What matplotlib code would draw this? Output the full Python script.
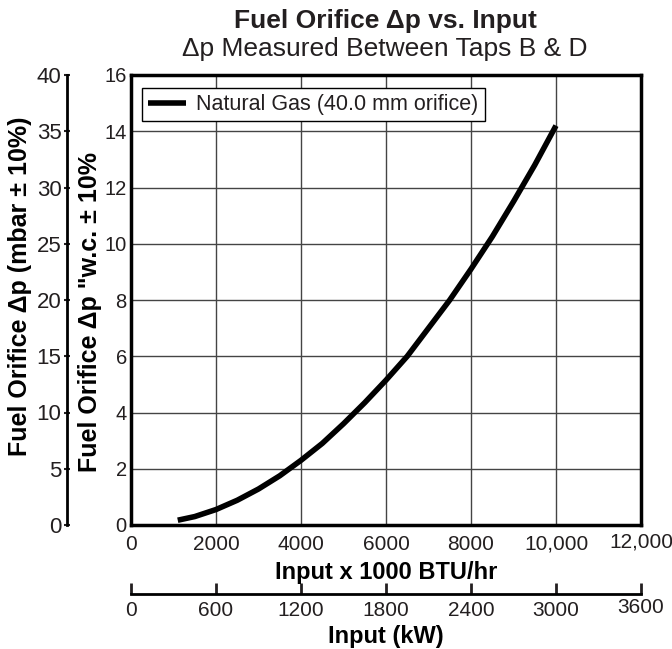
import matplotlib
matplotlib.use('Agg')
import matplotlib.pyplot as plt
import matplotlib.transforms as mtransforms

# values
input_mbtu = [1100, 1500, 2000, 2500, 3000, 3500, 4000, 4500, 5000, 5500,
              6000, 6500, 7000, 7500, 8000, 8500, 9000, 9500, 10000]
dp_wc = [0.17, 0.3, 0.55, 0.88, 1.28, 1.75, 2.3, 2.9, 3.6, 4.35,
         5.15, 6.0, 7.0, 8.0, 9.1, 10.25, 11.5, 12.8, 14.2]
x_ticks = [0, 2000, 4000, 6000, 8000, 10000, 12000]
x_labels = ['0', '2000', '4000', '6000', '8000', '10,000', '12,000']
y_ticks = [0, 2, 4, 6, 8, 10, 12, 14, 16]
mbar_ticks = [0, 5, 10, 15, 20, 25, 30, 35, 40]
kw_ticks = [0, 600, 1200, 1800, 2400, 3000, 3600]

plt.rcParams['font.family'] = ['Liberation Sans', 'DejaVu Sans']
plt.rcParams['text.color'] = '#231f20'

fig = plt.figure(figsize=(6.72, 6.49), dpi=100)
ax = fig.add_axes([131/672, 124/649, 510/672, 450/649])

ax.plot(input_mbtu, dp_wc, color='black', lw=4, solid_capstyle='butt',
        label='Natural Gas (40.0 mm orifice)')
ax.set_xlim(0, 12000)
ax.set_ylim(0, 16)
ax.set_xticks(x_ticks)
ax.set_xticklabels(x_labels)
ax.set_yticks(y_ticks)
ax.tick_params(length=0, colors='#231f20')
ax.tick_params(axis='x', pad=7, labelsize=15)
ax.tick_params(axis='y', pad=3, labelsize=14.5)
ax.grid(color='#444444', lw=1)
for s in ax.spines.values():
    s.set_linewidth(2.5)
    s.set_color('black')

ax.set_xlabel('Input x 1000 BTU/hr', fontsize=17, fontweight='bold')
ax.xaxis.set_label_coords(0.5, -0.08)
ax.set_ylabel('Fuel Orifice \u0394p "w.c. \u00b1 10%', fontsize=18, fontweight='bold')
ax.yaxis.set_label_coords(-0.057, 0.473)

leg = ax.legend(loc='upper left', bbox_to_anchor=(0.0216, 0.971), borderaxespad=0,
                fontsize=15.5, fancybox=False, framealpha=1, edgecolor='black',
                handlelength=1.75, handletextpad=0.5, borderpad=0.28)
leg.get_frame().set_linewidth(1)

# mbar axis on the far left
sec_y = ax.secondary_yaxis(-0.1255, functions=(lambda v: v * 2.5, lambda v: v / 2.5))
sec_y.set_yticks(mbar_ticks)
sec_y.tick_params(direction='inout', length=4, width=1.5, labelsize=16, pad=2,
                  colors='#231f20')
sec_y.spines['left'].set_linewidth(2)
sec_y.set_ylabel('Fuel Orifice \u0394p (mbar \u00b1 10%)', fontsize=18, fontweight='bold')
sec_y.yaxis.set_label_coords(-0.194, 0.531, transform=ax.transAxes)

# kW axis below
sec_x = ax.secondary_xaxis(-0.153, functions=(lambda v: v * 0.3, lambda v: v / 0.3))
sec_x.set_xticks(kw_ticks)
sec_x.tick_params(direction='in', length=8, width=2, labelsize=15, pad=5,
                  colors='#231f20')
sec_x.spines['bottom'].set_linewidth(2)
sec_x.set_xlabel('Input (kW)', fontsize=17, fontweight='bold', labelpad=4)

# last labels sit a little higher in the original
lift = mtransforms.ScaledTranslation(0, 1.8/72, fig.dpi_scale_trans)
for lbl in (ax.get_xticklabels()[-1], sec_x.get_xticklabels()[-1]):
    lbl.set_transform(lbl.get_transform() + lift)

fig.text(0.573, 0.967, 'Fuel Orifice \u0394p vs. Input', ha='center', va='center',
         fontsize=19, fontweight='bold')
fig.text(0.573, 0.925, '\u0394p Measured Between Taps B & D', ha='center', va='center',
         fontsize=19)

fig.savefig('out.png', dpi=100)
